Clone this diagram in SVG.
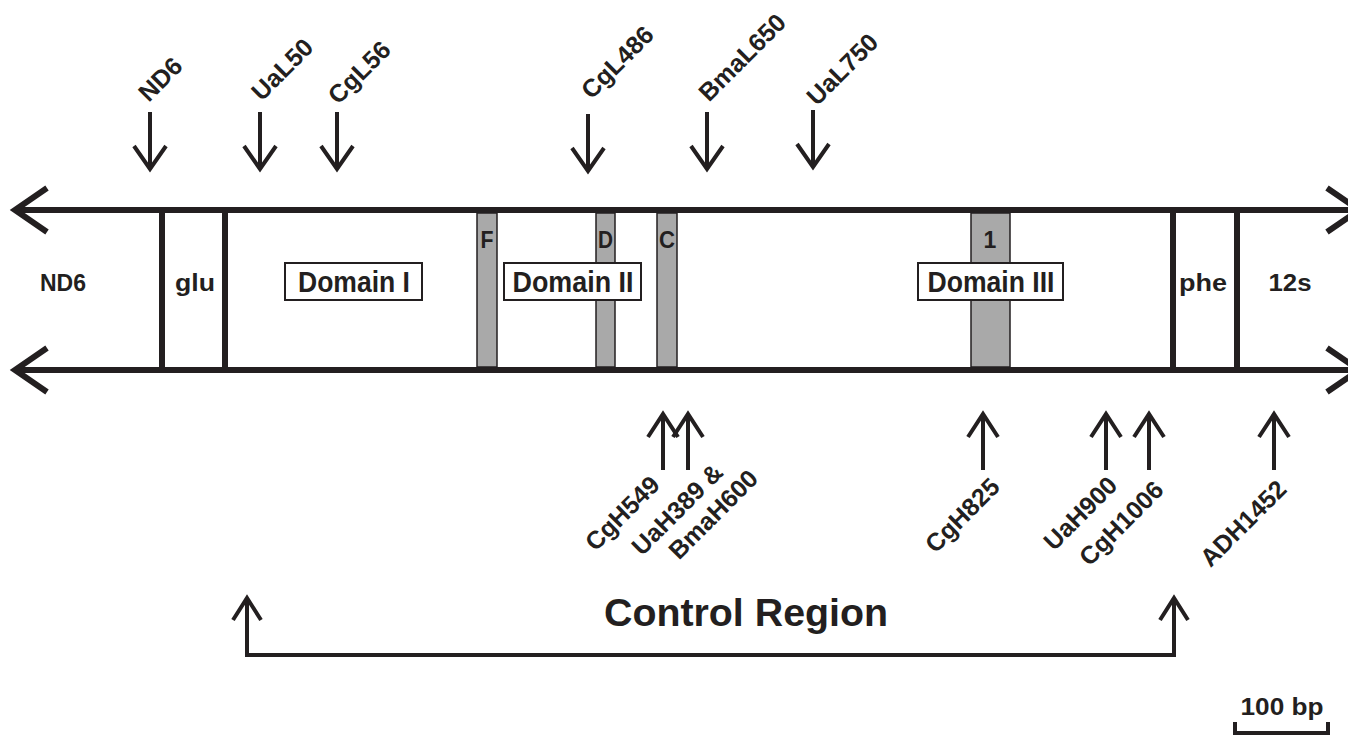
<svg xmlns="http://www.w3.org/2000/svg" width="1348" height="736" viewBox="0 0 1348 736">
<style>
.ln{stroke:#231f20;fill:none;stroke-width:6}
.ar{stroke:#231f20;fill:none;stroke-width:4}
.band{fill:#a9a9a9;stroke:#231f20;stroke-width:1.5}
.box{fill:#fff;stroke:#231f20;stroke-width:2}
.t{font-family:"Liberation Sans",Arial,sans-serif;font-weight:bold;fill:#231f20}
.lab{font-size:25px;text-anchor:middle}
.seg{font-size:23px;text-anchor:middle}
.dom{font-size:29px;text-anchor:middle}
.bl{font-size:23px;text-anchor:middle}
</style>
<rect width="1348" height="736" fill="#fff"/>
<g id="strands">
<line class="ln" x1="14" y1="210" x2="1358" y2="210"/>
<line class="ln" x1="14" y1="370" x2="1358" y2="370"/>
<polyline class="ln" points="47,188 15,210 47,232"/>
<polyline class="ln" points="47,348 15,370 47,392"/>
<polyline class="ln" points="1327,188 1359,210 1327,232"/>
<polyline class="ln" points="1327,348 1359,370 1327,392"/>
</g>
<g id="boundaries">
<line class="ln" x1="162" y1="210" x2="162" y2="370"/>
<line class="ln" x1="225" y1="210" x2="225" y2="370"/>
<line class="ln" x1="1173" y1="210" x2="1173" y2="370"/>
<line class="ln" x1="1237" y1="210" x2="1237" y2="370"/>
</g>
<g id="band-F"><rect class="band" x="477" y="213" width="20" height="154"/><text class="t bl" x="487" y="248" textLength="13" lengthAdjust="spacingAndGlyphs">F</text></g>
<g id="band-D"><rect class="band" x="596" y="213" width="19" height="154"/><text class="t bl" x="605.5" y="248" textLength="15" lengthAdjust="spacingAndGlyphs">D</text></g>
<g id="band-C"><rect class="band" x="657" y="213" width="20" height="154"/><text class="t bl" x="667" y="248" textLength="16" lengthAdjust="spacingAndGlyphs">C</text></g>
<g id="band-1"><rect class="band" x="971" y="213" width="39" height="154"/><text class="t bl" x="990" y="248">1</text></g>
<g id="seg-ND6"><text class="t seg" x="63" y="291">ND6</text></g>
<g id="seg-glu"><text class="t seg" x="195" y="291" textLength="40" lengthAdjust="spacingAndGlyphs">glu</text></g>
<g id="seg-phe"><text class="t seg" x="1203" y="291" textLength="48" lengthAdjust="spacingAndGlyphs">phe</text></g>
<g id="seg-12s"><text class="t seg" x="1290" y="291" textLength="43" lengthAdjust="spacingAndGlyphs">12s</text></g>
<g id="domain-I"><rect class="box" x="285" y="263" width="137" height="37"/><text class="t dom" x="354" y="292" textLength="112" lengthAdjust="spacingAndGlyphs">Domain I</text></g>
<g id="domain-II"><rect class="box" x="504" y="263" width="137" height="37"/><text class="t dom" x="573" y="292" textLength="121" lengthAdjust="spacingAndGlyphs">Domain II</text></g>
<g id="domain-III"><rect class="box" x="918" y="263" width="145" height="37"/><text class="t dom" x="991" y="292" textLength="127" lengthAdjust="spacingAndGlyphs">Domain III</text></g>
<g id="connectors">
<line class="ar" x1="150" y1="112" x2="150" y2="168"/><polyline class="ar" points="134,146 150,169 166,146"/>
<line class="ar" x1="260" y1="112" x2="260" y2="168"/><polyline class="ar" points="244,146 260,169 276,146"/>
<line class="ar" x1="337" y1="112" x2="337" y2="168"/><polyline class="ar" points="321,146 337,169 353,146"/>
<line class="ar" x1="588" y1="114" x2="588" y2="170"/><polyline class="ar" points="572,148 588,171 604,148"/>
<line class="ar" x1="707" y1="112" x2="707" y2="168"/><polyline class="ar" points="691,146 707,169 723,146"/>
<line class="ar" x1="813" y1="110" x2="813" y2="166"/><polyline class="ar" points="797,144 813,167 829,144"/>
<line class="ar" x1="663" y1="470" x2="663" y2="415"/><polyline class="ar" points="648,437 663,414 678,437"/>
<line class="ar" x1="688" y1="470" x2="688" y2="415"/><polyline class="ar" points="673,437 688,414 703,437"/>
<line class="ar" x1="983" y1="470" x2="983" y2="415"/><polyline class="ar" points="968,437 983,414 998,437"/>
<line class="ar" x1="1106" y1="470" x2="1106" y2="415"/><polyline class="ar" points="1091,437 1106,414 1121,437"/>
<line class="ar" x1="1149" y1="470" x2="1149" y2="415"/><polyline class="ar" points="1134,437 1149,414 1164,437"/>
<line class="ar" x1="1274" y1="470" x2="1274" y2="415"/><polyline class="ar" points="1259,437 1274,414 1289,437"/>
<path class="ar" d="M247,600 V655 H1174 V600" stroke-width="4.5"/>
<polyline class="ar" points="233,620 247,598 261,620"/>
<polyline class="ar" points="1160,620 1174,598 1188,620"/>
</g>
<g id="primers-L">
<text class="t lab" transform="translate(160,79) rotate(-45)" y="9">ND6</text>
<text class="t lab" transform="translate(282,69) rotate(-45)" y="9">UaL50</text>
<text class="t lab" transform="translate(359,72) rotate(-45)" y="9">CgL56</text>
<text class="t lab" transform="translate(617,62) rotate(-45)" y="9">CgL486</text>
<text class="t lab" transform="translate(742,57) rotate(-45)" y="9">BmaL650</text>
<text class="t lab" transform="translate(842,69) rotate(-45)" y="9">UaL750</text>
</g>
<g id="primers-H">
<text class="t lab" transform="translate(622,513) rotate(-45)" y="9">CgH549</text>
<text class="t lab" transform="translate(677,509) rotate(-45)" y="9">UaH389 &amp;</text>
<text class="t lab" transform="translate(713,514) rotate(-45)" y="9">BmaH600</text>
<text class="t lab" transform="translate(962,515) rotate(-45)" y="9">CgH825</text>
<text class="t lab" transform="translate(1080,513) rotate(-45)" y="9">UaH900</text>
<text class="t lab" transform="translate(1121,523) rotate(-45)" y="9">CgH1006</text>
<text class="t lab" transform="translate(1243,523) rotate(-45)" y="9">ADH1452</text>
</g>
<g id="control-region"><text class="t" x="746" y="626" font-size="38" text-anchor="middle" textLength="284" lengthAdjust="spacingAndGlyphs">Control Region</text></g>
<g id="scale-bar">
<text class="t" x="1282" y="715" font-size="23" text-anchor="middle" textLength="83" lengthAdjust="spacingAndGlyphs">100 bp</text>
<polyline class="ar" points="1235,722 1235,733 1328,733 1328,722" stroke-width="3.5"/>
</g>
</svg>
